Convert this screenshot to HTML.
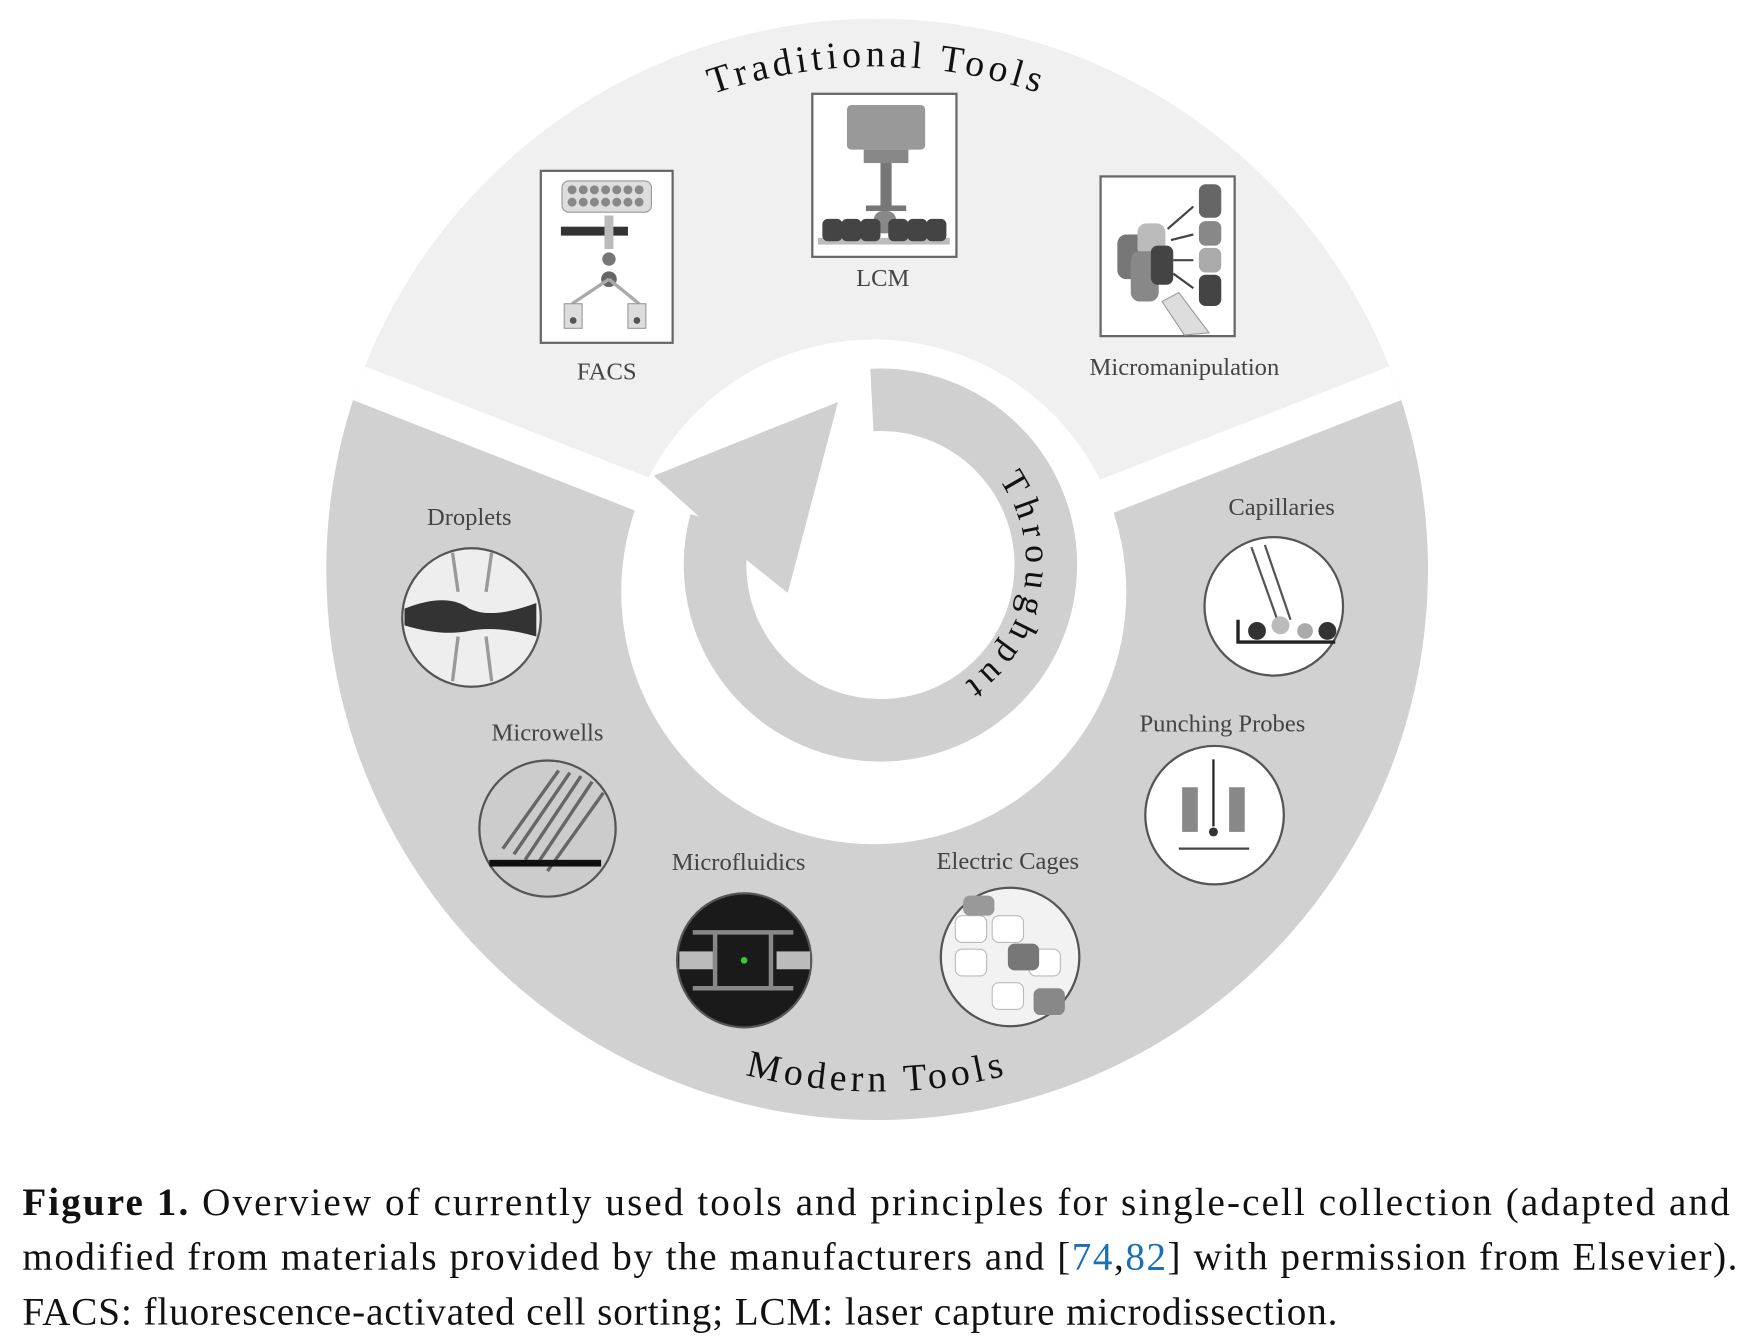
<!DOCTYPE html>
<html><head><meta charset="utf-8"><style>
html,body{margin:0;padding:0;background:#fff;}
svg{display:block;}
</style></head><body>
<svg width="1752" height="1340" viewBox="0 0 1568 1200" preserveAspectRatio="none" xmlns="http://www.w3.org/2000/svg">
<defs>
<clipPath id="disk"><circle cx="785" cy="510" r="493"/></clipPath>
<path id="tt" d="M395,285 A450,450 0 0 1 1175,285"/>
<path id="mt" d="M380,744 A468,468 0 0 0 1190,744"/>
<path id="tp" d="M893.8,429.4 A130,130 0 0 1 822,631"/>
</defs>
<rect width="1568" height="1200" fill="#fff"/>
<circle cx="785" cy="510" r="493" fill="#d1d1d1"/>
<polygon clip-path="url(#disk)" points="150,276 785,525 1420,276 1420,0 150,0" fill="#f0f0f1"/>
<g clip-path="url(#disk)" stroke="#fff" stroke-width="32">
<line x1="785" y1="525" x2="150" y2="276"/>
<line x1="785" y1="525" x2="1420" y2="276"/>
</g>
<circle cx="782" cy="530" r="226" fill="#fff"/>
<path d="M780.3,358.2 A148,148 0 1 1 645,467.7" fill="none" stroke="#d0d0d0" stroke-width="56"/>
<polygon points="585,426 750,360 705,531 670,503 626,463" fill="#d0d0d0"/>
<g font-family="Liberation Serif, serif" fill="#111">
<text font-size="34" letter-spacing="4" text-anchor="middle"><textPath href="#tt" startOffset="50%">Traditional Tools</textPath></text>
<text font-size="34" letter-spacing="4" text-anchor="middle"><textPath href="#mt" startOffset="50%">Modern Tools</textPath></text>
<text font-size="32" letter-spacing="6"><textPath href="#tp">Throughput</textPath></text>
</g>
<g font-family="Liberation Serif, serif" font-size="22" fill="#444" text-anchor="middle">
<text x="543" y="340">FACS</text>
<text x="790" y="256">LCM</text>
<text x="1060" y="336">Micromanipulation</text>
<text x="420" y="470">Droplets</text>
<text x="490" y="663">Microwells</text>
<text x="661" y="779">Microfluidics</text>
<text x="902" y="778">Electric Cages</text>
<text x="1094" y="655">Punching Probes</text>
<text x="1147" y="461">Capillaries</text>
</g>
<rect x="484" y="153" width="118" height="154" fill="#fff" stroke="#666" stroke-width="2"/>
<rect x="503" y="162" width="80" height="28" rx="6" fill="#ddd" stroke="#999"/>
<g fill="#888"><circle cx="512" cy="170" r="4"/><circle cx="522" cy="170" r="4"/><circle cx="532" cy="170" r="4"/><circle cx="542" cy="170" r="4"/><circle cx="552" cy="170" r="4"/><circle cx="562" cy="170" r="4"/><circle cx="572" cy="170" r="4"/>
<circle cx="512" cy="181" r="4"/><circle cx="522" cy="181" r="4"/><circle cx="532" cy="181" r="4"/><circle cx="542" cy="181" r="4"/><circle cx="552" cy="181" r="4"/><circle cx="562" cy="181" r="4"/><circle cx="572" cy="181" r="4"/></g>
<rect x="502" y="203" width="60" height="8" fill="#333"/>
<rect x="541" y="193" width="8" height="30" fill="#bbb"/>
<circle cx="545" cy="232" r="6" fill="#777"/>
<circle cx="545" cy="250" r="7" fill="#666"/>
<line x1="545" y1="250" x2="512" y2="272" stroke="#aaa" stroke-width="3"/>
<line x1="545" y1="250" x2="572" y2="272" stroke="#aaa" stroke-width="3"/>
<rect x="505" y="272" width="16" height="22" fill="#ddd" stroke="#999"/><circle cx="513" cy="287" r="3" fill="#555"/>
<rect x="562" y="272" width="16" height="22" fill="#ddd" stroke="#999"/><circle cx="570" cy="287" r="3" fill="#555"/>
<rect x="727" y="84" width="129" height="146" fill="#fff" stroke="#666" stroke-width="2"/>
<rect x="758" y="94" width="70" height="40" rx="4" fill="#999"/>
<rect x="773" y="134" width="40" height="12" fill="#888"/>
<rect x="788" y="146" width="10" height="40" fill="#777"/>
<rect x="775" y="184" width="36" height="5" fill="#777"/>
<rect x="782" y="189" width="20" height="20" rx="8" fill="#888"/>
<rect x="732" y="213" width="118" height="6" fill="#bbb"/>
<g fill="#444"><rect x="736" y="196" width="18" height="20" rx="5"/><rect x="753" y="196" width="18" height="20" rx="5"/><rect x="770" y="196" width="18" height="20" rx="5"/><rect x="795" y="196" width="18" height="20" rx="5"/><rect x="812" y="196" width="18" height="20" rx="5"/><rect x="829" y="196" width="18" height="20" rx="5"/></g>
<rect x="985" y="158" width="120" height="143" fill="#fff" stroke="#666" stroke-width="2"/>
<rect x="1000" y="210" width="25" height="40" rx="8" fill="#777"/>
<rect x="1018" y="200" width="25" height="30" rx="8" fill="#bbb"/>
<rect x="1012" y="225" width="25" height="45" rx="8" fill="#888"/>
<rect x="1030" y="220" width="20" height="35" rx="6" fill="#444"/>
<rect x="1073" y="165" width="20" height="30" rx="6" fill="#666"/>
<rect x="1073" y="198" width="20" height="22" rx="6" fill="#888"/>
<rect x="1073" y="222" width="20" height="22" rx="6" fill="#aaa"/>
<rect x="1073" y="246" width="20" height="28" rx="6" fill="#444"/>
<line x1="1045" y1="205" x2="1068" y2="185" stroke="#444" stroke-width="2"/>
<line x1="1048" y1="215" x2="1068" y2="210" stroke="#444" stroke-width="2"/>
<line x1="1050" y1="233" x2="1068" y2="233" stroke="#444" stroke-width="2"/>
<line x1="1050" y1="245" x2="1068" y2="258" stroke="#444" stroke-width="2"/>
<polygon points="1040,270 1055,262 1082,298 1060,300" fill="#ddd" stroke="#999"/>
<g stroke="#555" stroke-width="2">
<circle cx="422" cy="553" r="62" fill="#eee"/>
<circle cx="490" cy="742" r="61" fill="#ccc"/>
<circle cx="666" cy="860" r="60" fill="#1a1a1a"/>
<circle cx="904" cy="857" r="62" fill="#f2f2f2"/>
<circle cx="1087" cy="730" r="62" fill="#fff"/>
<circle cx="1140" cy="543" r="62" fill="#fff"/>
</g>
<path d="M362,545 Q400,530 420,545 Q440,555 480,540 L480,570 Q445,560 420,565 Q395,570 362,560 Z" fill="#333"/>
<path d="M405,495 L410,530 M440,495 L435,530 M405,610 L410,570 M440,610 L435,570" stroke="#999" stroke-width="3" fill="none"/>
<g stroke="#666" stroke-width="3"><line x1="450" y1="760" x2="500" y2="690"/><line x1="460" y1="765" x2="510" y2="692"/><line x1="470" y1="770" x2="520" y2="695"/><line x1="480" y1="775" x2="530" y2="700"/><line x1="490" y1="780" x2="540" y2="710"/></g>
<rect x="438" y="770" width="100" height="6" fill="#111"/>
<path d="M620,835 H710 M620,885 H710 M640,835 V885 M690,835 V885" stroke="#888" stroke-width="4" fill="none"/>
<rect x="608" y="852" width="30" height="16" fill="#bbb"/><rect x="695" y="852" width="30" height="16" fill="#bbb"/>
<circle cx="666" cy="860" r="3" fill="#3c3"/>
<g fill="#fff" stroke="#bbb"><rect x="855" y="820" width="28" height="24" rx="6"/><rect x="888" y="820" width="28" height="24" rx="6"/><rect x="855" y="850" width="28" height="24" rx="6"/><rect x="888" y="880" width="28" height="24" rx="6"/><rect x="921" y="850" width="28" height="24" rx="6"/></g>
<rect x="902" y="845" width="28" height="24" rx="6" fill="#777"/>
<rect x="925" y="885" width="28" height="24" rx="6" fill="#888"/>
<rect x="862" y="802" width="28" height="18" rx="6" fill="#999"/>
<rect x="1058" y="705" width="14" height="40" fill="#888"/><rect x="1100" y="705" width="14" height="40" fill="#888"/>
<line x1="1086" y1="680" x2="1086" y2="740" stroke="#222" stroke-width="2"/>
<circle cx="1086" cy="745" r="4" fill="#333"/>
<line x1="1055" y1="760" x2="1118" y2="760" stroke="#444" stroke-width="2"/>
<line x1="1120" y1="490" x2="1145" y2="560" stroke="#555" stroke-width="2"/>
<line x1="1132" y1="488" x2="1155" y2="555" stroke="#555" stroke-width="2"/>
<path d="M1108,555 V575 H1195" stroke="#222" stroke-width="3" fill="none"/>
<circle cx="1125" cy="565" r="8" fill="#333"/><circle cx="1146" cy="560" r="8" fill="#bbb"/><circle cx="1168" cy="565" r="7" fill="#aaa"/><circle cx="1188" cy="565" r="8" fill="#333"/>
<g font-family="Liberation Serif, serif" font-size="35" fill="#111">
<text x="20" y="1088" textLength="1528" lengthAdjust="spacing"><tspan font-weight="bold">Figure 1.</tspan> Overview of currently used tools and principles for single-cell collection (adapted and</text>
<text x="20" y="1137" textLength="1535" lengthAdjust="spacing">modified from materials provided by the manufacturers and [<tspan fill="#1a6fb5">74</tspan>,<tspan fill="#1a6fb5">82</tspan>] with permission from Elsevier).</text>
<text x="20" y="1186" textLength="1177" lengthAdjust="spacing">FACS: fluorescence-activated cell sorting; LCM: laser capture microdissection.</text>
</g>
</svg>
</body></html>
